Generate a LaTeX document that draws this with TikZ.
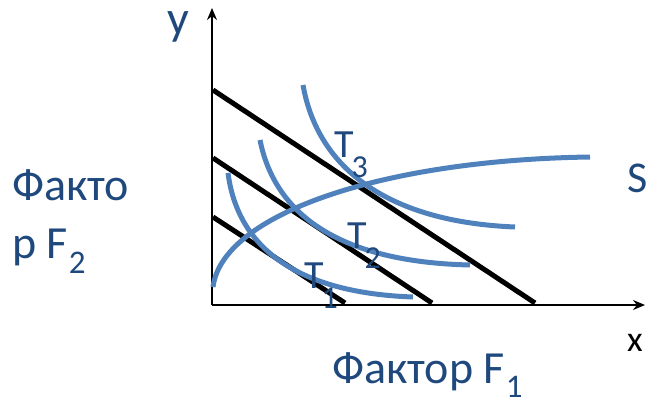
\documentclass[tikz,border=0pt]{standalone}
\usepackage{fontspec}
\setmainfont{Carlito}
\usetikzlibrary{arrows.meta}
\definecolor{txtblue}{HTML}{1F497D}
\definecolor{curveblue}{HTML}{4F81BD}
\newcommand{\tlab}[1]{T\kern-2pt\raisebox{-20pt}{\fontsize{32}{32}\selectfont #1}}
\newcommand{\fsub}[2]{\kern1pt\raisebox{#1}{\fontsize{33}{33}\selectfont #2}}
\tikzset{
  axis/.style    = {line width=1.5pt, draw=black, -{Stealth[length=12pt,width=10pt]}},
  budget/.style  = {line width=5pt, draw=black},
  isoq/.style    = {line width=5pt, draw=curveblue},
  big/.style     = {font=\fontsize{46}{58}\selectfont, text=txtblue, inner sep=0pt},
  tname/.style   = {font=\fontsize{40}{40}\selectfont, text=txtblue, inner sep=0pt, anchor=base west},
}
\begin{document}
\begin{tikzpicture}[x=1pt, y=-1pt]
  \useasboundingbox (0,0) rectangle (648,404);
  % axes
  \coordinate (O) at (212,305);
  \coordinate (ytop) at (212,8);
  \coordinate (xend) at (645,305);
  \draw[axis] (O) -- (ytop);
  \draw[axis] (O) -- (xend);
  \node[font=\fontsize{48}{48}\selectfont, text=txtblue, inner sep=0pt, anchor=base west] (ylab) at (167,35) {y};
  \node[font=\fontsize{36}{36}\selectfont, inner sep=0pt, anchor=base west] (xlab) at (627,351) {x};
  % budget lines
  \draw[budget] (213,217) -- (345,303);
  \draw[budget] (213,158) -- (432,303);
  \draw[budget] (213,90) -- (535,303);
  % isoquants and path S
  \draw[isoq] (228,173) .. controls (238,250) and (300,293) .. (413,297);
  \draw[isoq] (260,140) .. controls (275,215) and (340,262) .. (470,265);
  \draw[isoq] (303,85) .. controls (318,170) and (390,222) .. (515,227);
  \draw[isoq] (213,287) .. controls (222,215) and (380,160) .. (590,157);
  % labels
  \node[tname] (t1) at (304,288) {\tlab{1}};
  \node[tname] (t2) at (347,248) {\tlab{2}};
  \node[tname] (t3) at (334,157) {\tlab{3}};
  \node[font=\fontsize{44}{44}\selectfont, text=txtblue, inner sep=0pt, anchor=base west] (slab) at (627,192) {S};
  \node[big, align=left, anchor=base west] (f2) at (12,258) {Факто\\р F\fsub{-15pt}{2}};
  \node[big, anchor=base west] (f1) at (332,383) {Фактор F\fsub{-14pt}{1}};
\end{tikzpicture}
\end{document}
